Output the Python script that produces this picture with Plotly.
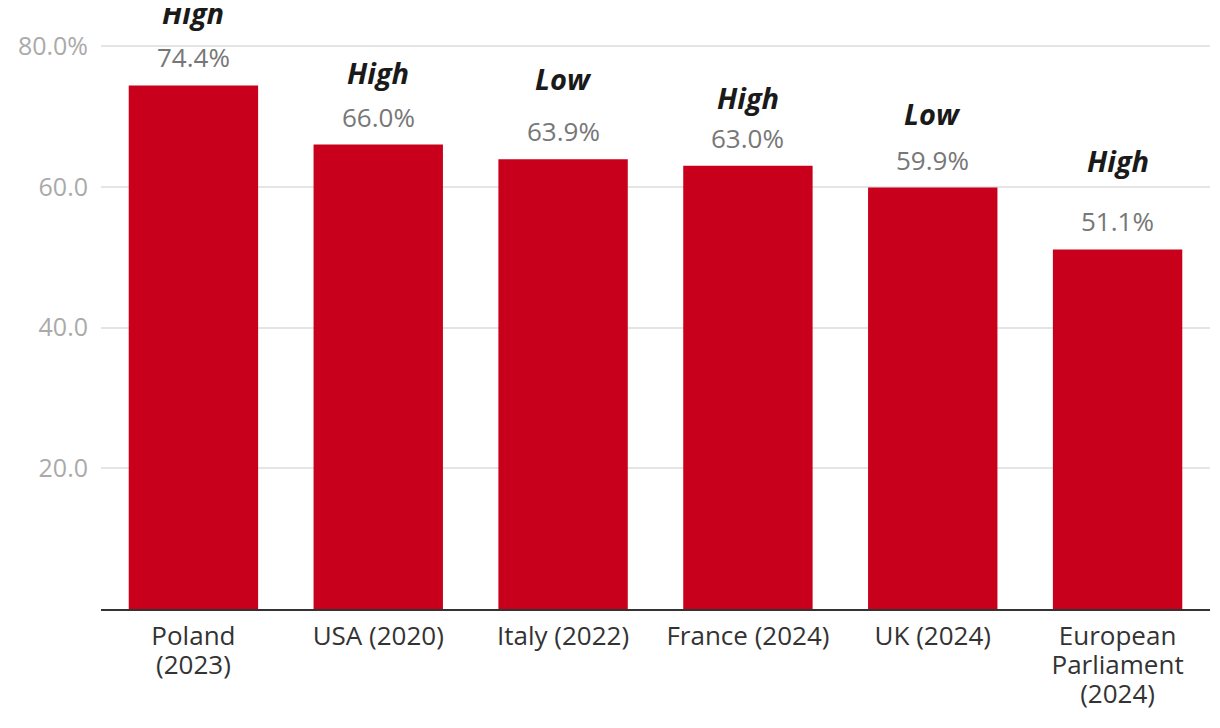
import plotly.graph_objects as go

categories = ["Poland<br>(2023)", "USA (2020)", "Italy (2022)", "France (2024)",
              "UK (2024)", "European<br>Parliament<br>(2024)"]
turnout = [74.4, 66.0, 63.9, 63.0, 59.9, 51.1]
level = ["High", "High", "Low", "High", "Low", "High"]
tick_vals = [20, 40, 60, 80]
tick_text = ["20.0", "40.0", "60.0", "80.0%"]

# label offsets (pixels above bar top) for the High/Low tags
tag_shift = [73, 72, 81, 68, 74, 89]

FONT = "Open Sans"
fig = go.Figure(go.Bar(x=categories, y=turnout, marker_color="#C9001B",
                       marker_line_width=0, hoverinfo="skip"))

for c, v, l, s in zip(categories, turnout, level, tag_shift):
    fig.add_annotation(x=c, y=v, text=f"{v:.1f}%", showarrow=False,
                       yanchor="middle", yshift=28,
                       font=dict(family=FONT, size=26, color="#777777"))
    fig.add_annotation(x=c, y=v, text=f"<b><i>{l}</i></b>", showarrow=False,
                       yanchor="middle", yshift=s,
                       font=dict(family=FONT, size=29, color="#1a1a1a", weight=800))

# category labels: larger glyphs with tighter line spacing
cat_text = ["<br>".join(f"<span style='font-size:26px'>{p}</span>" for p in c.split("<br>"))
            for c in categories]

fig.update_layout(
    width=1212, height=720,
    margin=dict(l=90, r=10, t=37, b=119),
    plot_bgcolor="white", paper_bgcolor="white",
    bargap=0.3, showlegend=False,
    font=dict(family=FONT),
)
fig.update_xaxes(type="category", showgrid=False, showline=True, linecolor="#333333",
                 linewidth=2, ticks="", tickvals=categories, ticktext=cat_text,
                 tickfont=dict(family=FONT, size=22, color="#333333"),
                 ticklabelstandoff=8)
fig.update_yaxes(range=[0, 80.15], tickvals=tick_vals, ticktext=tick_text,
                 showgrid=True, gridcolor="#e5e5e5", gridwidth=1.5, zeroline=False,
                 showline=False, ticks="", ticklabelstandoff=12,
                 tickfont=dict(family=FONT, size=25, color="#aaaaaa"))

fig.write_html("out.html")
